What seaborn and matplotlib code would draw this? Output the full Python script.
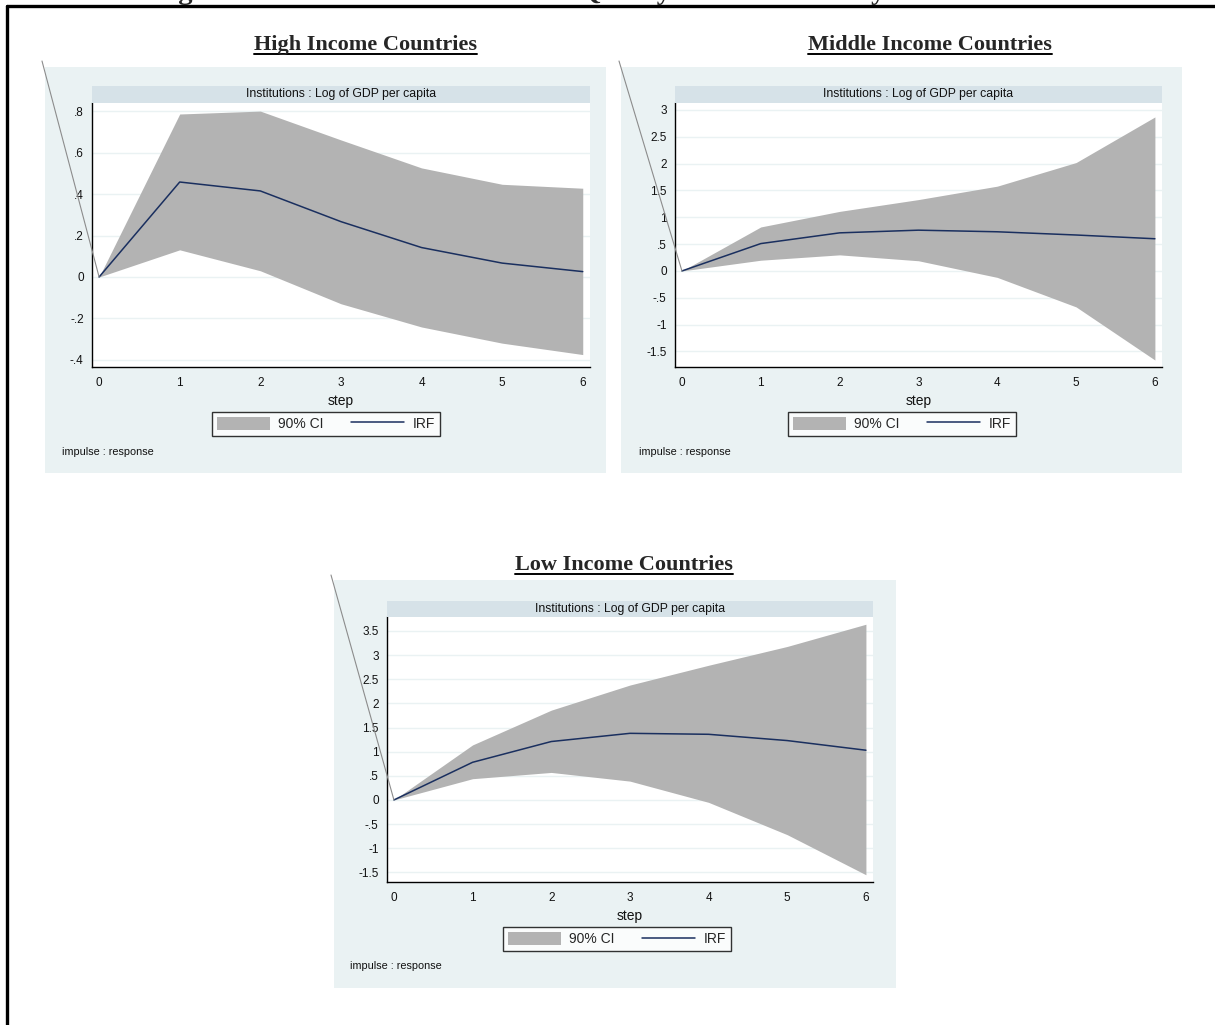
import numpy as np
import pandas as pd
import seaborn as sns
import matplotlib
matplotlib.use("Agg")
import matplotlib.pyplot as plt
from matplotlib.patches import Rectangle, Patch
from matplotlib.lines import Line2D
from matplotlib.patches import ConnectionPatch

# ---- data: impulse responses of log GDP per capita to an institutions shock ----
steps = [0, 1, 2, 3, 4, 5, 6]

high_irf = [0.0, 0.458, 0.415, 0.267, 0.142, 0.067, 0.026]
high_lo = [0.0, 0.131, 0.030, -0.129, -0.241, -0.319, -0.374]
high_hi = [0.0, 0.786, 0.800, 0.661, 0.526, 0.447, 0.428]
high_ticks = [0.8, 0.6, 0.4, 0.2, 0.0, -0.2, -0.4]
high_ticklabels = [".8", ".6", ".4", ".2", "0", "-.2", "-.4"]

mid_irf = [0.0, 0.51, 0.71, 0.76, 0.73, 0.67, 0.60]
mid_lo = [0.0, 0.20, 0.30, 0.19, -0.12, -0.67, -1.66]
mid_hi = [0.0, 0.82, 1.11, 1.33, 1.58, 2.02, 2.87]
mid_ticks = [3, 2.5, 2, 1.5, 1, 0.5, 0, -0.5, -1, -1.5]
mid_ticklabels = ["3", "2.5", "2", "1.5", "1", ".5", "0", "-.5", "-1", "-1.5"]

low_irf = [0.0, 0.78, 1.21, 1.38, 1.36, 1.23, 1.03]
low_lo = [0.0, 0.44, 0.57, 0.39, -0.05, -0.72, -1.55]
low_hi = [0.0, 1.14, 1.86, 2.38, 2.79, 3.18, 3.64]
low_ticks = [3.5, 3, 2.5, 2, 1.5, 1, 0.5, 0, -0.5, -1, -1.5]
low_ticklabels = ["3.5", "3", "2.5", "2", "1.5", "1", ".5", "0", "-.5", "-1", "-1.5"]

panel_titles = ["High Income Countries", "Middle Income Countries", "Low Income Countries"]
strip_title = "Institutions : Log of GDP per capita"
figure_title = "Figure 4: IRFs Shows the Effect of Quality of Institutions by Income Level"

# ---- style ----
sns.set_theme(style="white")
plt.rcParams["font.family"] = ["Liberation Sans", "DejaVu Sans"]

W, H = 1215, 1025
fig = plt.figure(figsize=(W / 100, H / 100), dpi=100)
fig.patch.set_facecolor("white")

BG = "#EAF2F3"
STRIP = "#D6E2E8"
GRID = "#EAF2F3"
CI_COL = "#B3B3B3"
IRF_COL = "#1A2F5F"


def frac_rect(x0, y0, x1, y1):
    """pixel box (top-left origin) -> figure fraction [l, b, w, h]"""
    return [x0 / W, 1 - y1 / H, (x1 - x0) / W, (y1 - y0) / H]


def fx(x):
    return x / W


def fy(y):
    return 1 - y / H


# page frame: top rule and left rule
fig.add_artist(Line2D([fx(7), fx(1215)], [fy(6), fy(6)], color="black", lw=2.4))
fig.add_artist(Line2D([fx(7), fx(7)], [fy(6), fy(1025)], color="black", lw=2.4))

# figure caption (runs off the top of the page)
fig.text(fx(153), 1 + 1.0 / H, figure_title, ha="left", va="baseline",
         family="Liberation Serif", weight="bold", fontsize=20.5)

# panel layout in pixels
layouts = [
    dict(bg=(45, 67, 606, 473), plot=(92, 103, 590, 367), strip_top=86,
         ylim=(-0.434, 0.839), head=(365, 50), diag=(42, 61),
         imp=(62, 455), leg=(326, 424)),
    dict(bg=(621, 67, 1182, 473), plot=(675, 103, 1162, 367), strip_top=86,
         ylim=(-1.79, 3.13), head=(930, 50), diag=(619, 61),
         imp=(639, 455), leg=(902, 424)),
    dict(bg=(334, 580, 896, 988), plot=(387, 617, 873, 882), strip_top=601,
         ylim=(-1.70, 3.79), head=(624, 570), diag=(331, 575),
         imp=(350, 969), leg=(617, 939)),
]

datasets = [
    (high_irf, high_lo, high_hi, high_ticks, high_ticklabels),
    (mid_irf, mid_lo, mid_hi, mid_ticks, mid_ticklabels),
    (low_irf, low_lo, low_hi, low_ticks, low_ticklabels),
]

renderer = fig.canvas.get_renderer()

for title, lay, (irf, lo, hi, yt, ytl) in zip(panel_titles, layouts, datasets):
    bx0, by0, bx1, by1 = lay["bg"]
    fig.add_artist(Rectangle((fx(bx0), fy(by1)), fx(bx1 - bx0), (by1 - by0) / H,
                             transform=fig.transFigure, facecolor=BG, edgecolor="none",
                             zorder=0))
    px0, py0, px1, py1 = lay["plot"]
    # strip title band
    st = lay["strip_top"]
    fig.add_artist(Rectangle((fx(px0), fy(py0)), fx(px1 - px0), (py0 - st) / H,
                             transform=fig.transFigure, facecolor=STRIP, edgecolor="none",
                             zorder=1))
    fig.text(fx((px0 + px1) / 2), fy((st + py0) / 2), strip_title, ha="center",
             va="center", fontsize=8.8, color="#111111", zorder=2)

    ax = fig.add_axes(frac_rect(px0, py0, px1, py1))
    ax.set_facecolor("white")
    df = pd.DataFrame({"step": steps, "irf": irf, "lo": lo, "hi": hi})
    ax.fill_between(df["step"], df["lo"], df["hi"], color=CI_COL, lw=0, zorder=2)
    sns.lineplot(data=df, x="step", y="irf", ax=ax, color=IRF_COL, lw=1.1, zorder=3)

    ax.set_xlim(-0.088, 6.09)
    ax.set_ylim(*lay["ylim"])
    ax.set_xticks(steps)
    ax.set_xticklabels([str(s) for s in steps], fontsize=8.5)
    ax.set_yticks(yt)
    ax.set_yticklabels(ytl, fontsize=8.5)
    ax.yaxis.grid(True, color=GRID, lw=1.0, zorder=0)
    ax.xaxis.grid(False)
    ax.set_axisbelow(True)
    for side in ("top", "right"):
        ax.spines[side].set_visible(False)
    for side in ("left", "bottom"):
        ax.spines[side].set_color("black")
        ax.spines[side].set_linewidth(1.0)
    ax.tick_params(axis="both", which="both", direction="out", length=4, width=0.8,
                   color="black", pad=2, labelcolor="#111111")
    ax.tick_params(axis="x", pad=3)
    ax.set_xlabel("step", fontsize=10, labelpad=4, color="#111111")
    ax.set_ylabel("")

    # legend below the axis
    handles = [Patch(facecolor=CI_COL, edgecolor="none", label="90% CI"),
               Line2D([0], [0], color=IRF_COL, lw=1.1, label="IRF")]
    lx, ly = lay["leg"]
    leg = fig.legend(handles=handles, loc="center", bbox_to_anchor=(fx(lx), fy(ly)),
                     ncol=2, frameon=True, fancybox=False, fontsize=10,
                     handlelength=3.8, handleheight=1.1, columnspacing=2.0,
                     handletextpad=0.6, borderpad=0.35, borderaxespad=0)
    leg.get_frame().set_edgecolor("black")
    leg.get_frame().set_linewidth(1.0)
    leg.get_frame().set_facecolor("white")

    ix, iy = lay["imp"]
    fig.text(fx(ix), fy(iy), "impulse : response", ha="left", va="baseline",
             fontsize=7.8, color="#111111")

    # heading with underline
    hx, hy = lay["head"]
    t = fig.text(fx(hx), fy(hy), title, ha="center", va="baseline",
                 family="Liberation Serif", weight="bold", fontsize=16)
    bb = t.get_window_extent(renderer=renderer)
    uy = fy(hy + 4)
    fig.add_artist(Line2D([bb.x0 / W, bb.x1 / W], [uy, uy], color="black", lw=1.4))

    # thin leader line into the response origin
    dx, dy = lay["diag"]
    con = ConnectionPatch(xyA=(fx(dx), fy(dy)), coordsA=fig.transFigure,
                          xyB=(steps[0], irf[0]), coordsB=ax.transData,
                          color="#8C8C8C", lw=0.8, zorder=5)
    fig.add_artist(con)

fig.savefig("out.png", dpi=100)
